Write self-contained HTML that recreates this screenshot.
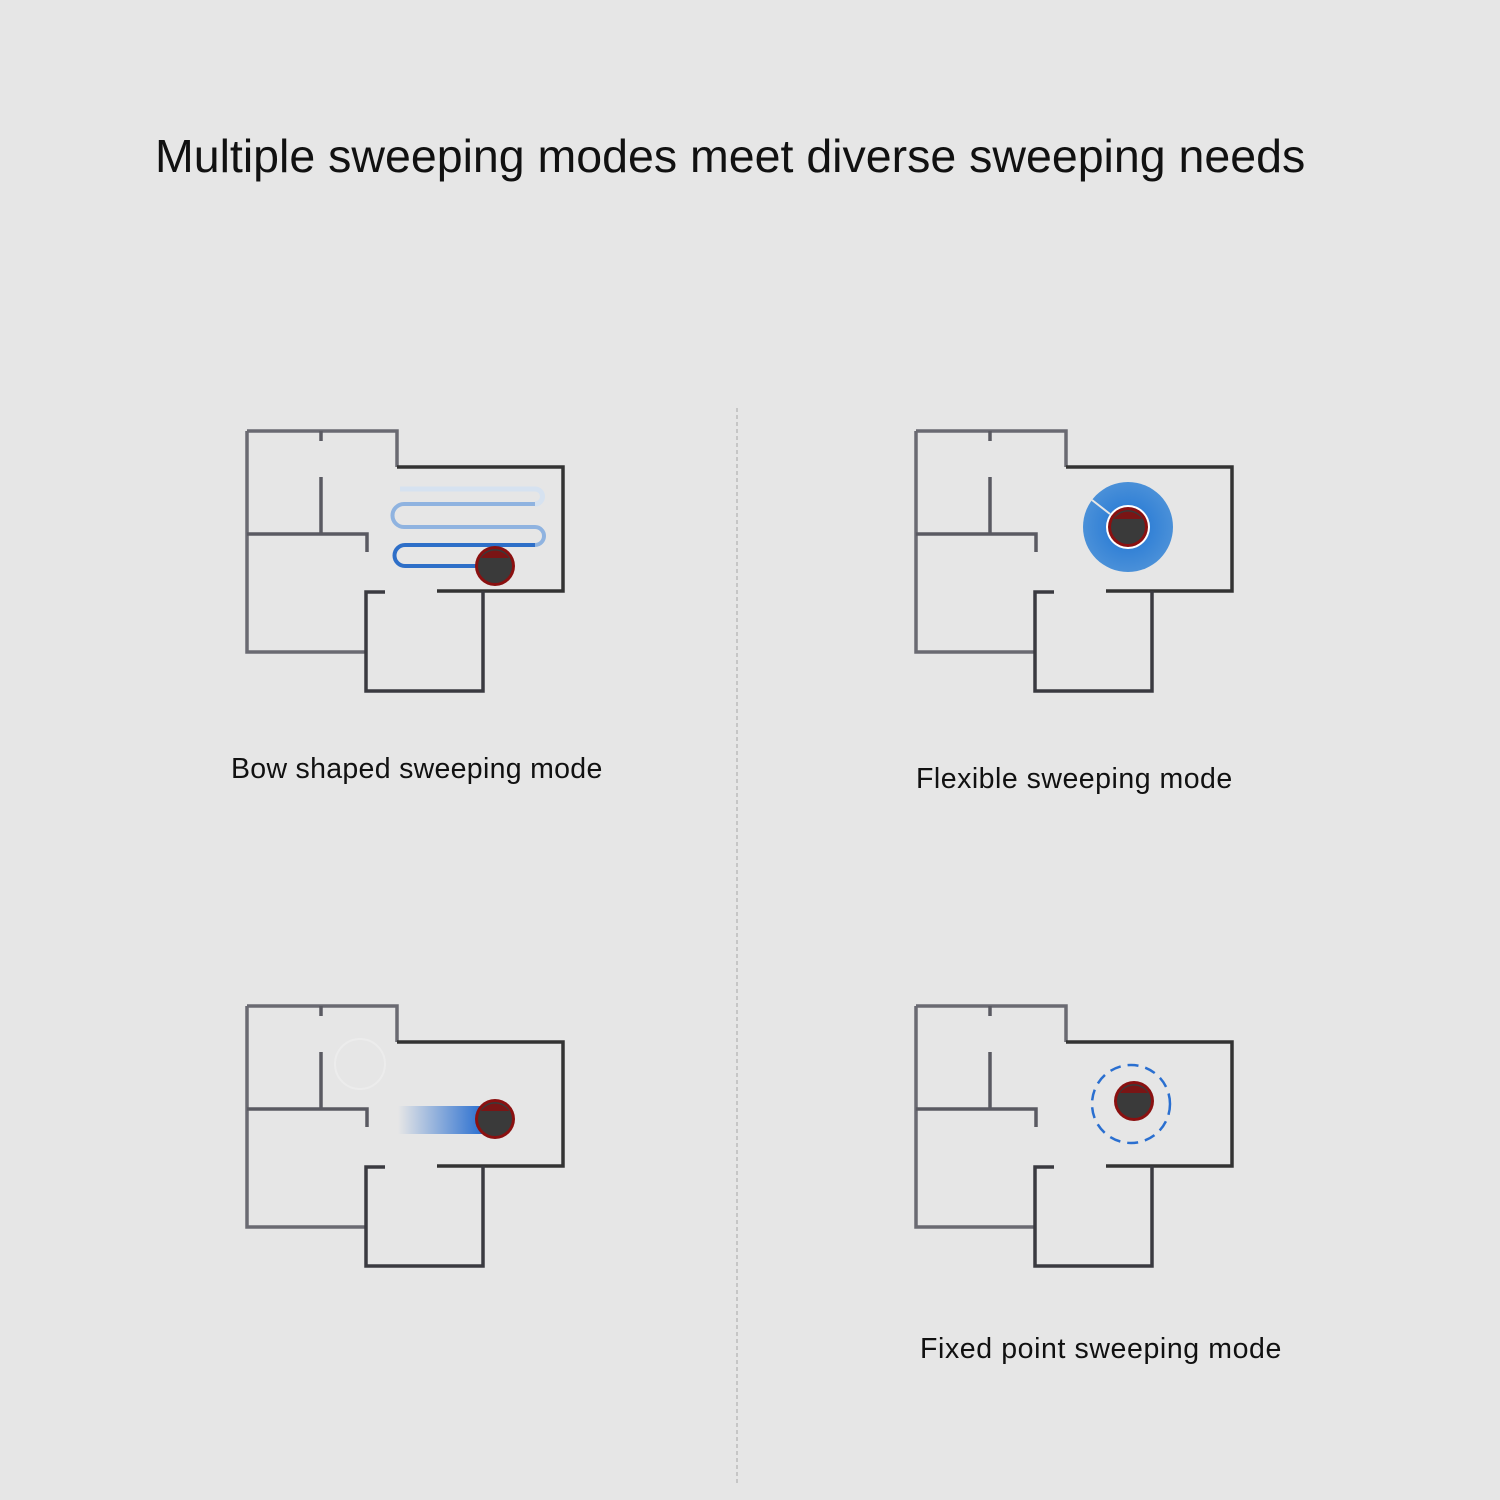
<!DOCTYPE html>
<html><head><style>
body{margin:0;width:1500px;height:1500px;background:#e6e6e6;position:relative;overflow:hidden;font-family:"Liberation Sans","DejaVu Sans",sans-serif;}
.t{position:absolute;color:#111;white-space:nowrap;}
</style></head><body>
<div class="t" style="left:155px;top:129px;font-size:46.5px;">Multiple sweeping modes meet diverse sweeping needs</div>
<div class="t" style="left:231px;top:753px;font-size:28.5px;letter-spacing:0.3px">Bow shaped sweeping mode</div>
<div class="t" style="left:916px;top:763px;font-size:28.5px;letter-spacing:0.5px">Flexible sweeping mode</div>
<div class="t" style="left:920px;top:1333px;font-size:28.5px;letter-spacing:0.6px">Fixed point sweeping mode</div>
<svg width="1500" height="1500" style="position:absolute;left:0;top:0">
<defs>
<g id="plan" fill="none" stroke-width="3.5">
<path d="M247 431 H397 V467" stroke="#6a6a72"/>
<path d="M397 467 H563 V591 H437" stroke="#333"/>
<path d="M247 431 V652 H365" stroke="#6a6a72"/>
<path d="M385 592 H366 V691 H483 V591" stroke="#3a3a40"/>
<path d="M247 534 H367 V552" stroke="#5a5a62"/>
<path d="M321 431 V441 M321 477 V534" stroke="#5a5a62"/>
</g>
<g id="robot"><circle r="20" fill="#8a1010"/><circle r="17" fill="#3a3a3a"/><path d="M-14 -8 A17 17 0 0 1 14 -8 Z" fill="#7a1515"/></g>
<linearGradient id="trail" x1="0" x2="1"><stop offset="0" stop-color="#2a6fd0" stop-opacity="0"/><stop offset="1" stop-color="#2a6fd0"/></linearGradient>
<radialGradient id="ring"><stop offset="0.4" stop-color="#2f7fd6"/><stop offset="1" stop-color="#4a90d8"/></radialGradient>
</defs>
<line x1="737" y1="408" x2="737" y2="1485" stroke="#bbb" stroke-width="1.5" stroke-dasharray="4 3"/>
<use href="#plan"/>
<use href="#plan" transform="translate(669 0)"/>
<use href="#plan" transform="translate(0 575)"/>
<use href="#plan" transform="translate(669 575)"/>
<!-- bow -->
<path d="M400 489 H535 A6 6 0 0 1 535 504 H404 A7 7 0 0 0 404 527 H535 A7 7 0 0 1 535 545" fill="none" stroke="#8fb3e0" stroke-width="4"/>
<path d="M535 545 H405 A8 8 0 0 0 405 566 H480" fill="none" stroke="#2e6fc8" stroke-width="4"/>
<path d="M400 489 H535 A6 6 0 0 1 535 504" fill="none" stroke="#d6e2f0" stroke-width="5"/>
<use href="#robot" transform="translate(495 566)"/>
<!-- flexible -->
<circle cx="1128" cy="527" r="45" fill="url(#ring)"/>
<line x1="1092" y1="500" x2="1110" y2="514" stroke="#e6e6e6" stroke-width="2"/>
<circle cx="1128" cy="527" r="22" fill="#fff"/>
<use href="#robot" transform="translate(1128 527)"/>
<!-- edge -->
<circle cx="360" cy="1064" r="25" fill="none" stroke="#ececec" stroke-width="2"/>
<rect x="398" y="1106" width="85" height="28" fill="url(#trail)"/>
<use href="#robot" transform="translate(495 1119)"/>
<!-- fixed -->
<circle cx="1131" cy="1104" r="39" fill="none" stroke="#2a6fd0" stroke-width="2.5" stroke-dasharray="11 7"/>
<use href="#robot" transform="translate(1134 1101)"/>
</svg>
</body></html>
